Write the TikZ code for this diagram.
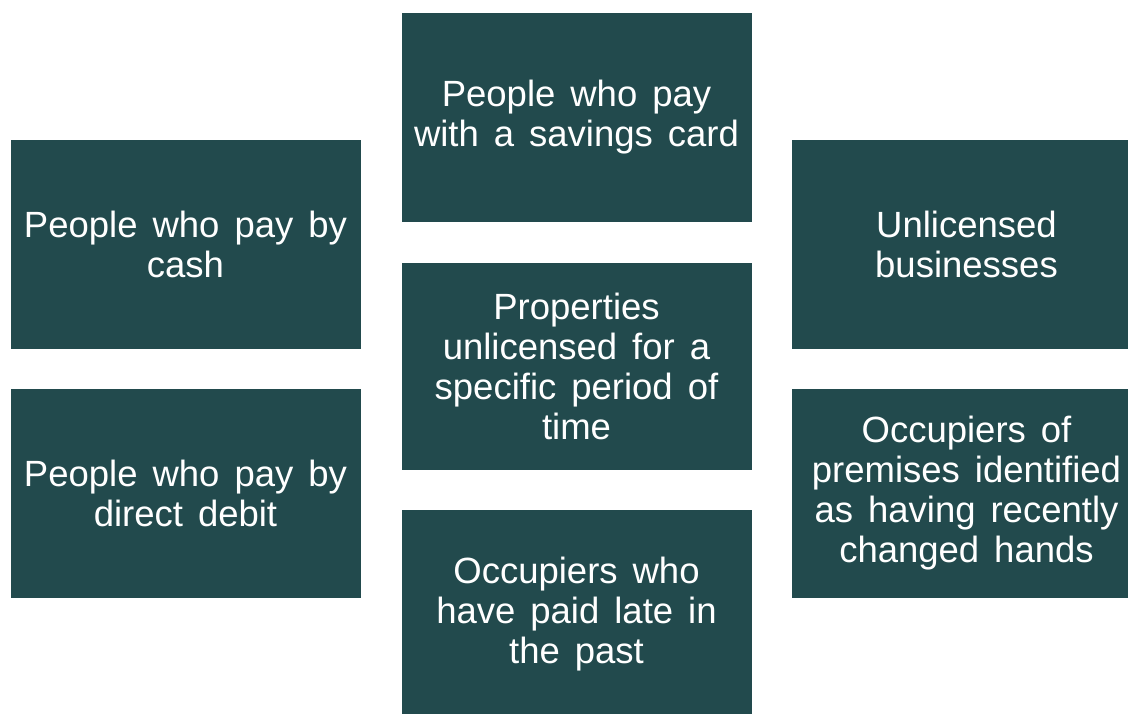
\documentclass[tikz,border=0pt]{standalone}
\usepackage{fontspec}
\setmainfont{Liberation Sans}
\usepackage{xcolor}
\usepackage{tikz}
\usetikzlibrary{positioning}
\definecolor{tealbox}{HTML}{224A4D}
\newcommand\blkfont{\fontsize{36.5}{40}\selectfont\spaceskip=15pt plus 2pt\relax}
\tikzset{
  blk/.style={rectangle,fill=tealbox,text=white,minimum width=350pt,minimum height=209pt,
    inner sep=0pt,align=center,font=\blkfont},
}

\begin{document}
\begin{tikzpicture}[x=1pt,y=-1pt]
  \useasboundingbox (0,0) rectangle (1128,713);
  \clip (0,0) rectangle (1128,713);
  % left column
  \node[blk] (cash)   at (185.5,244.5) {People who pay by\\cash};
  \node[blk] (debit)  at (185.5,493.5) {People who pay by\\direct debit};
  % middle column
  \node[blk] (card)   at (576.5,117.5) {People who pay\\with a savings card};
  \node[blk,minimum height=207pt] (props) at (576.5,366.5) {Properties\\unlicensed for a\\specific period of\\time};
  \node[blk] (late)   at (576.5,614.5) {Occupiers who\\have paid late in\\the past};
  % right column (runs past the edge)
  \node[blk] (unlic)  at (966.5,244.5) {Unlicensed\\businesses};
  \node[blk] (occ)    at (966.5,493.5) {Occupiers of\\premises identified\\as having recently\\changed hands};
\end{tikzpicture}
\end{document}
